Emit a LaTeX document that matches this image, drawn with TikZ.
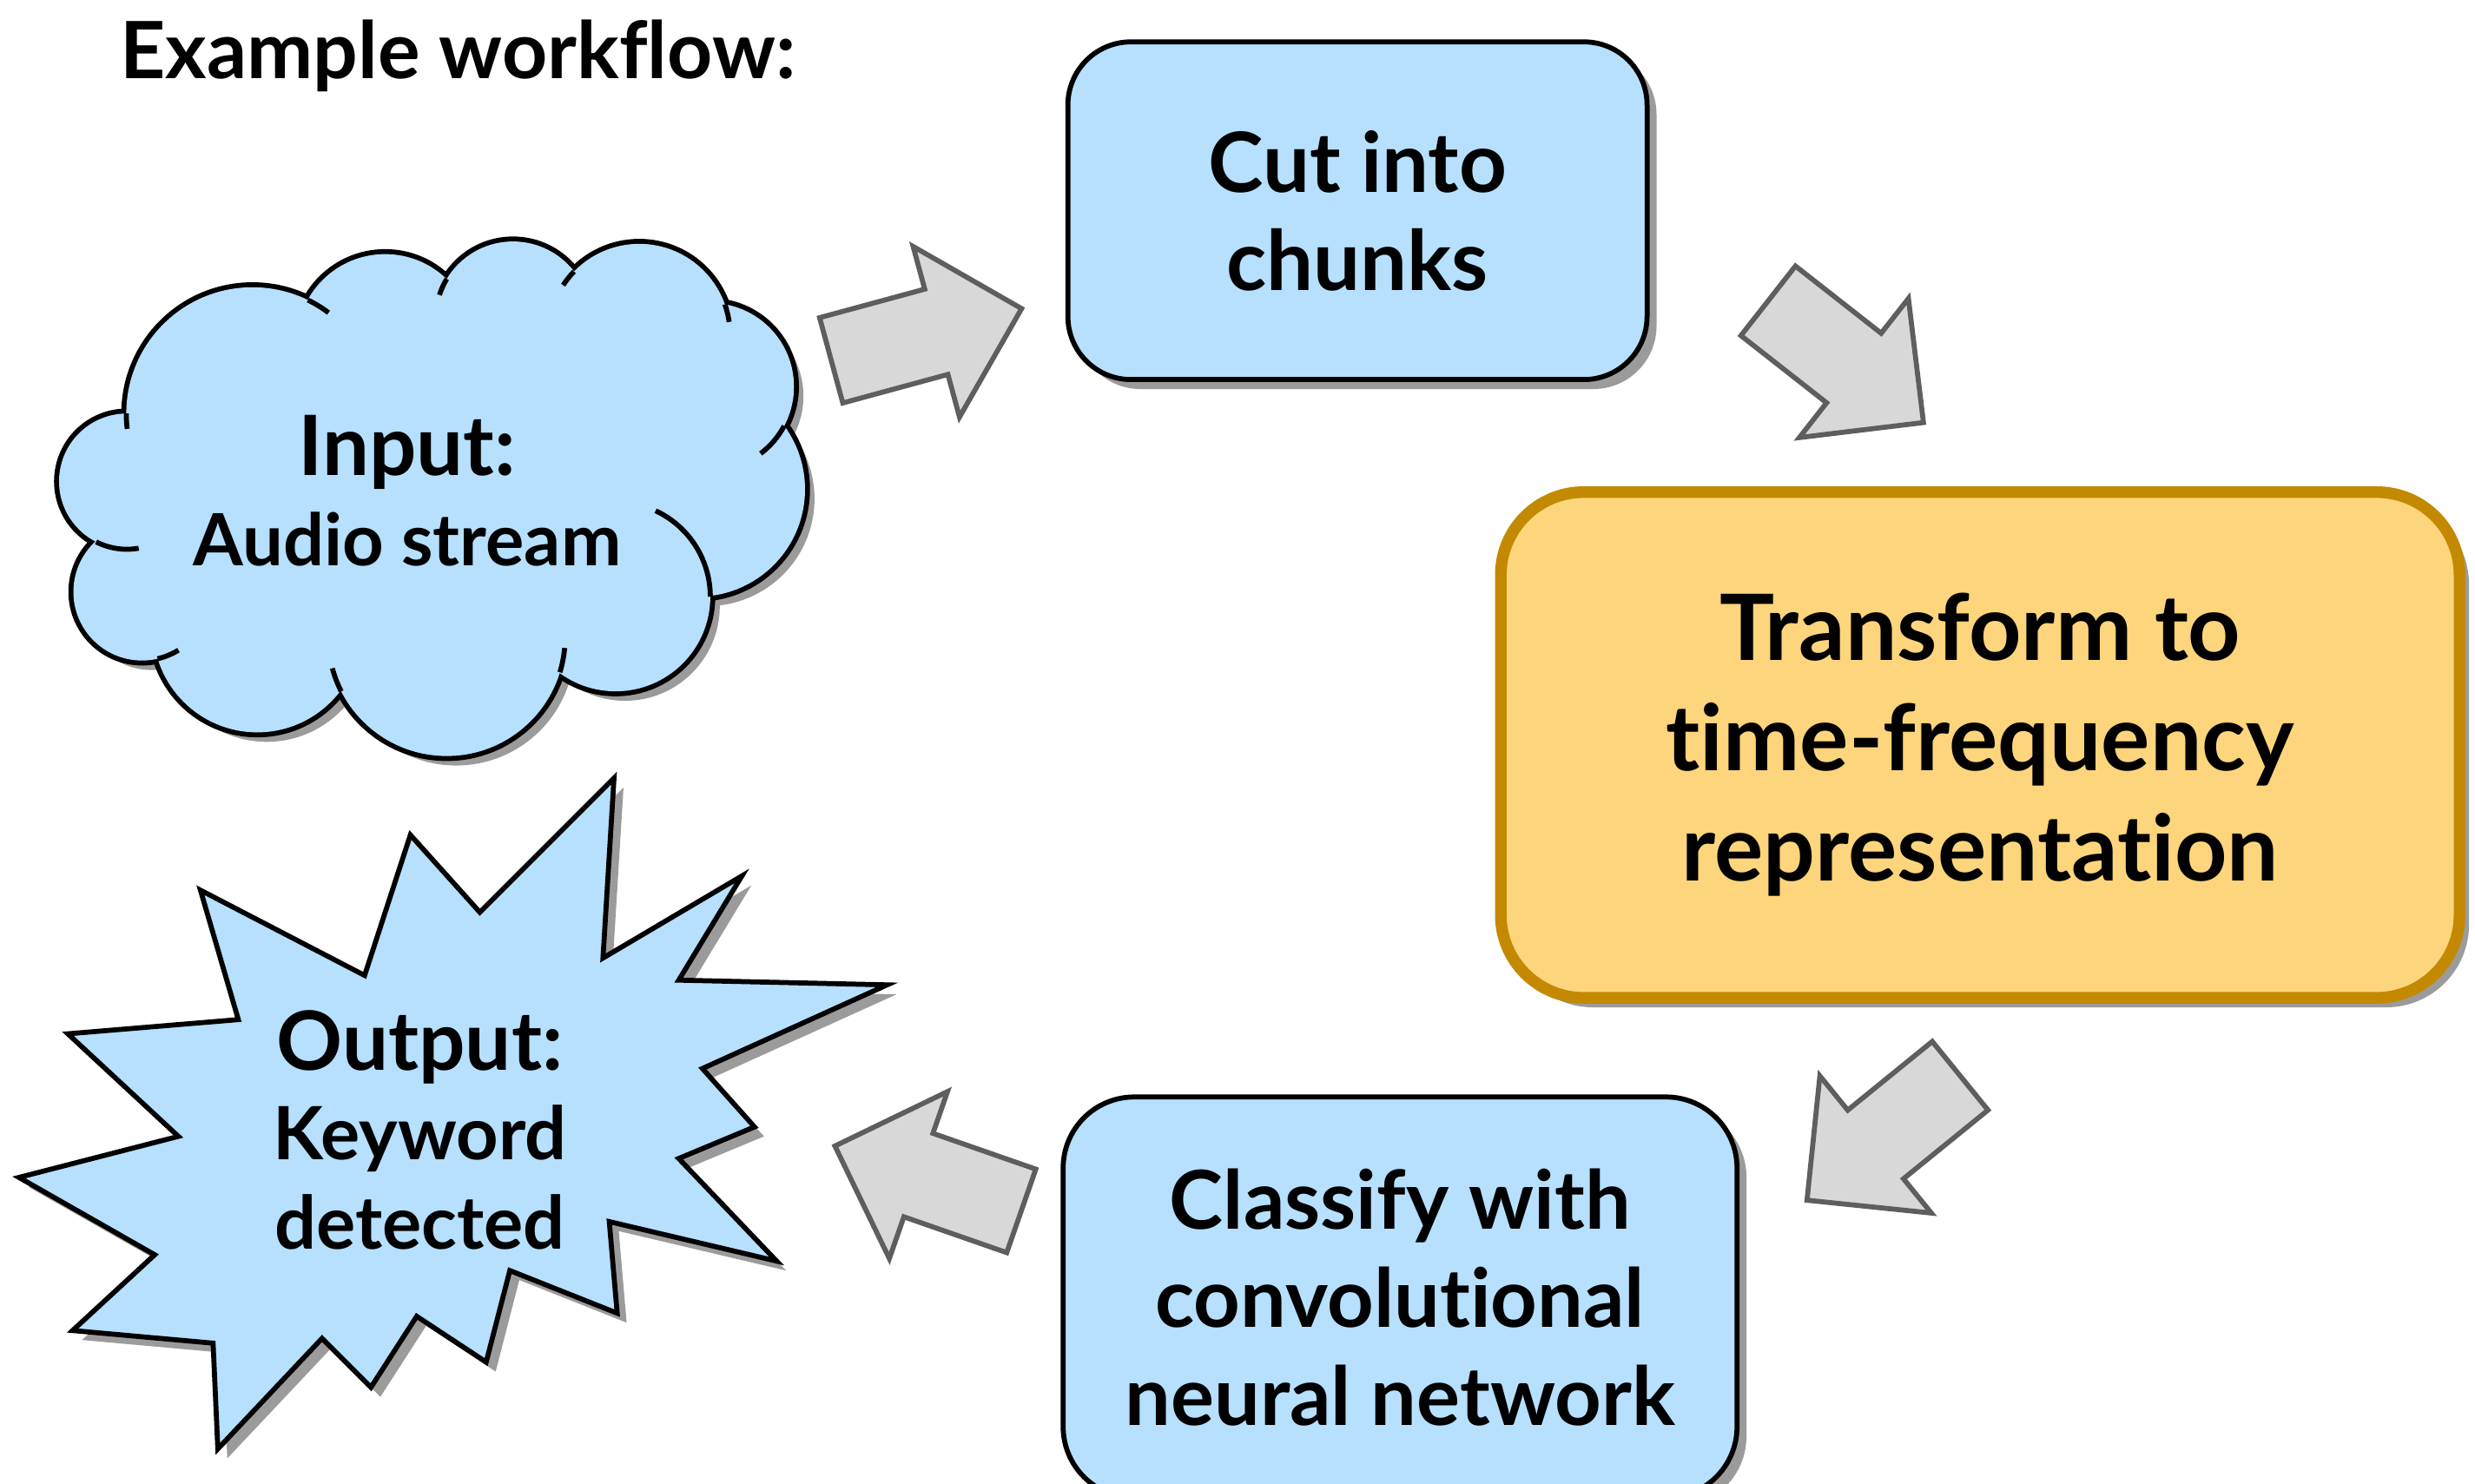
\documentclass[tikz,border=0pt]{standalone}
\usepackage{fontspec}
\setmainfont{Lato}[Ligatures=NoCommon]
\usetikzlibrary{shadows}

\definecolor{boxblue}{RGB}{182,224,254}
\definecolor{boxgold}{RGB}{253,213,124}
\definecolor{goldline}{RGB}{195,137,0}
\definecolor{arrowgray}{RGB}{216,216,216}
\definecolor{arrowline}{RGB}{94,94,94}
\definecolor{shadowgray}{RGB}{155,155,155}

\def\cloudpuffs{80.4/305/43, 90/375/43.5, 163/398/66, 283/404/75, 390/378/60, 442/310/68, 450/245/53, 405/212/57.5, 325/202/49, 244/217/56, 160/262/80}

\tikzset{
  dropgray/.style={drop shadow={shadow xshift=0.12cm, shadow yshift=-0.12cm, fill=shadowgray, opacity=1}},
  stepbox/.style={draw=black, line width=1.8pt, fill=boxblue, rounded corners=0.8cm, align=center, inner sep=0pt, dropgray,
    font=\fontsize{30}{35.5}\selectfont\bfseries},
  blockarrow/.pic={
    \draw[fill=arrowgray, draw=arrowline, line width=1.8pt, line join=miter]
      (0,-28) -- (69,-28) -- (69,-56) -- (125,0) -- (69,56) -- (69,28) -- (0,28) -- cycle;
  }
}

\begin{document}
\begin{tikzpicture}[x=0.02cm, y=-0.02cm]
        \useasboundingbox (0,0) rectangle (1568,940);

        \node[anchor=base west, font=\fontsize{28.5}{30}\selectfont\bfseries] (title) at (70,50) {Example workflow:};

        % cloud
        \begin{scope}[shift={(6,6)}]
          \foreach \cx/\cy/\r in \cloudpuffs
            \fill[shadowgray] (\cx,\cy) circle (\r);
        \end{scope}
        \foreach \cx/\cy/\r in \cloudpuffs
          \draw[line width=3.6pt] (\cx,\cy) circle (\r);
        \foreach \cx/\cy/\r in \cloudpuffs
          \fill[boxblue] (\cx,\cy) circle (\r);
        \fill[boxblue] (80.4,305) -- (90,375) -- (163,398) -- (283,404) -- (390,378) -- (442,310)
          -- (450,245) -- (405,212) -- (325,202) -- (244,217) -- (160,262) -- cycle;
        \foreach \cx/\cy/\r/\a/\b in {160/262/80/180/173, 80.4/305/43/117/80, 90/375/43.5/77/58,
            283/404/75/153/165, 283/404/75/17/5, 390/378/60/0/-65, 450/245/53/28/53,
            405/212/57.5/-19.5/-8, 405/212/57.5/-136/-147, 325/202/49/-149/-162, 160/262/80/-64/-53}
          \draw[line width=1.8pt] (\cx,\cy) ++(\a:\r) arc[start angle=\a, end angle=\b, radius=\r];
        \node[align=center, font=\fontsize{30}{32.4}\selectfont\bfseries] (input) at (258,311)
          {Input:\\{\fontsize{26}{32.4}\selectfont Audio stream}};

        % starburst
        \draw[fill=boxblue, line width=1.8pt, line join=miter, dropgray]
          (389,493) -- (382,607) -- (470,555) -- (430,621) -- (562,624) -- (445,677) -- (478,714)
          -- (430,734) -- (492,799) -- (386,774) -- (391,832) -- (323,805) -- (308,863) -- (264,834)
          -- (235,879) -- (204,848) -- (138,918) -- (135,851) -- (46,843) -- (98,795) -- (12,746)
          -- (113,720) -- (43,655) -- (151,646) -- (127,564) -- (231,618) -- (260,529) -- (304,578) -- cycle;
        \node[align=center, font=\fontsize{29.5}{32.4}\selectfont\bfseries] (output) at (266,716)
          {Output:\\{\fontsize{26.5}{32.4}\selectfont Keyword}\\{\fontsize{26.5}{32.4}\selectfont detected}};

        \node[stepbox, minimum width=7.34cm, minimum height=4.28cm] (cut) at (860,133.5) {Cut into\\chunks};
        \node[stepbox, draw=goldline, fill=boxgold, line width=4.2pt, rounded corners=1.05cm,
          minimum width=12.15cm, minimum height=6.41cm, font=\fontsize{33}{39.8}\selectfont\bfseries]
          (transform) at (1254.5,472) {Transform to\\time-frequency\\representation};
        \node[stepbox, rounded corners=0.9cm, minimum width=8.54cm, minimum height=5.08cm,
          font=\fontsize{29.3}{35.5}\selectfont\bfseries]
          (classify) at (887,822) {Classify with\\convolutional\\neural network};

        \pic[rotate=15.2] at (526.6,228.3) {blockarrow};
        \pic[rotate=-38.1] at (1120.2,190.6) {blockarrow};
        \pic[rotate=219.1] at (1241.8,681.6) {blockarrow};
        \pic[rotate=160.8] at (647,767.2) {blockarrow};
      \end{tikzpicture}
\end{document}
